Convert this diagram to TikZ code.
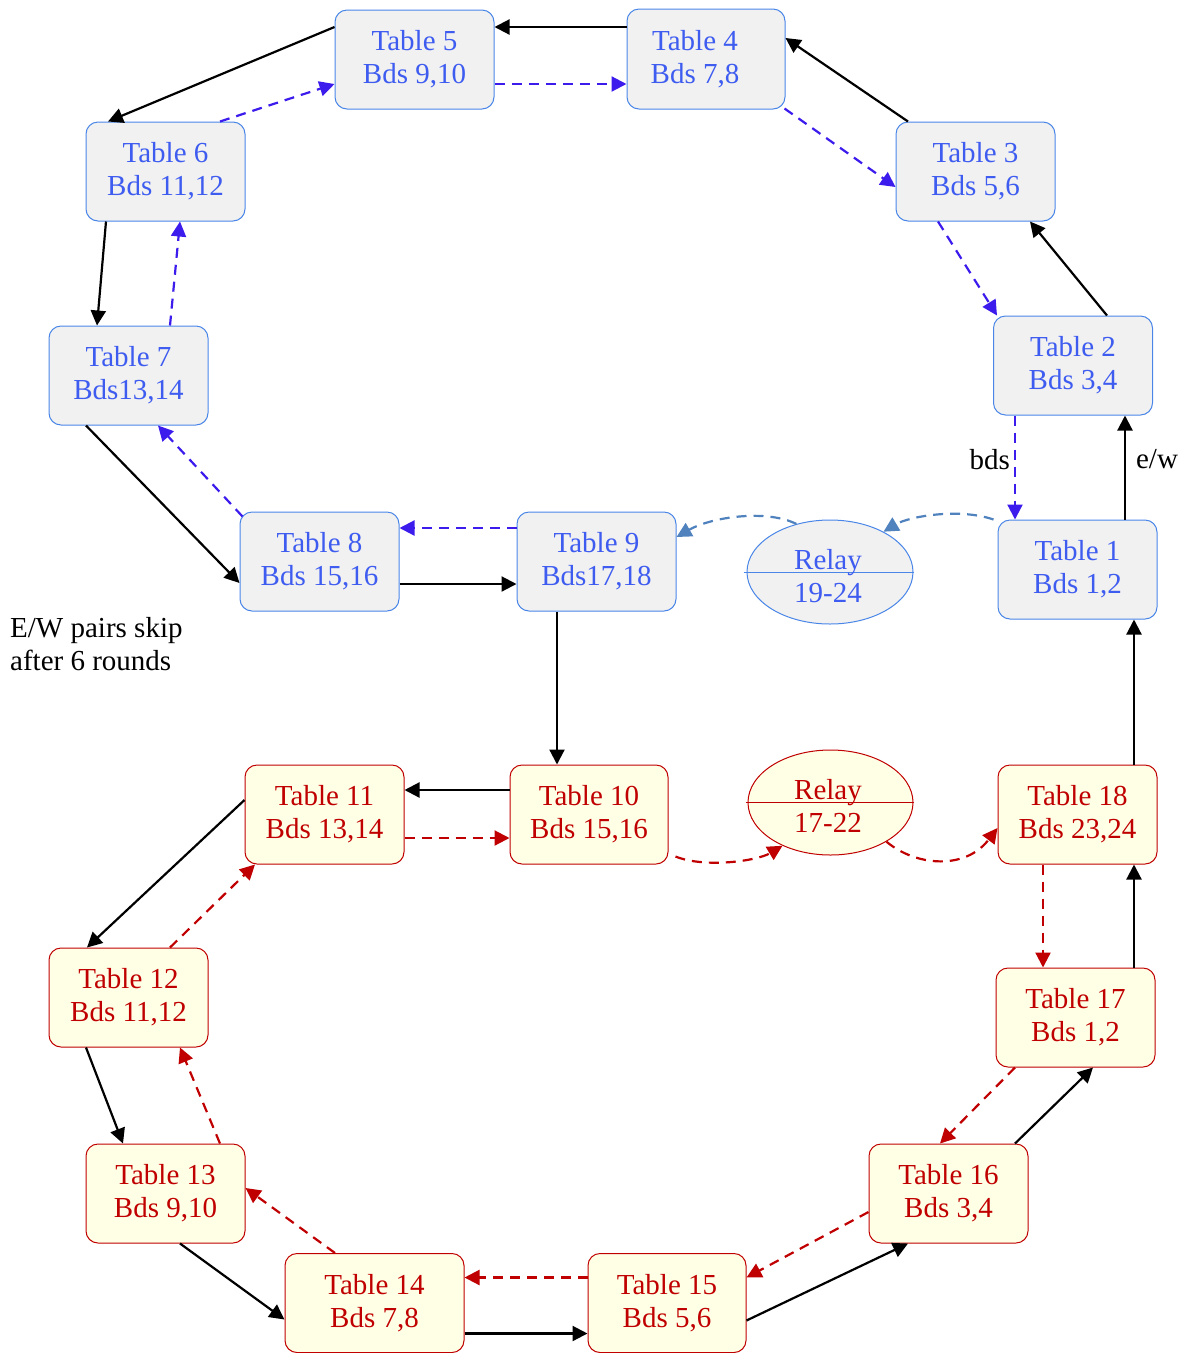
\documentclass[tikz,border=0pt]{standalone}
\usepackage{fontspec}
\setmainfont{Liberation Serif}
\usetikzlibrary{arrows.meta,shapes.geometric}
\definecolor{bluetxt}{RGB}{62,92,240}
\definecolor{blueedge}{RGB}{74,134,232}
\definecolor{bluefill}{RGB}{241,241,241}
\definecolor{bluedash}{RGB}{60,28,236}
\definecolor{steel}{RGB}{80,130,190}
\definecolor{redc}{RGB}{192,0,0}
\definecolor{yfill}{RGB}{255,255,230}
\tikzset{
  bigfont/.style={font=\fontsize{29}{33}\selectfont},
  bluebox/.style={draw=blueedge, fill=bluefill, text=bluetxt, rounded corners=12pt, line width=1pt,
    minimum width=159pt, minimum height=99pt, inner sep=0pt, align=center, bigfont},
  redbox/.style={draw=redc, fill=yfill, text=redc, rounded corners=12pt, line width=1pt,
    minimum width=159pt, minimum height=99pt, inner sep=0pt, align=center, bigfont},
  relayblue/.style={ellipse, draw=blueedge, fill=bluefill, line width=1pt,
    minimum width=166pt, minimum height=104pt, inner sep=0pt},
  relayred/.style={ellipse, draw=redc, fill=yfill, line width=1pt,
    minimum width=165pt, minimum height=105pt, inner sep=0pt},
  relaytxt/.style={align=center, bigfont, inner sep=0pt},
  tip/.style={-{Triangle[length=15pt,width=15pt]}},
  ew/.style={tip, draw=black, line width=2.2pt},
  bdsb/.style={tip, draw=bluedash, line width=2.2pt, dash pattern=on 10pt off 7pt},
  bdsr/.style={tip, draw=redc, line width=2.2pt, dash pattern=on 10pt off 7pt},
  bdss/.style={tip, draw=steel, line width=2.2pt, dash pattern=on 10pt off 7pt},
  lbl/.style={bigfont, text=black, inner sep=0pt},
}
\begin{document}
\begin{tikzpicture}[x=1pt,y=-1pt]
\useasboundingbox (0,0) rectangle (1185,1353);
% blue ring
\node[bluebox] (t1) at (1077.5,569.5) {Table 1\\Bds 1,2};
\node[bluebox] (t2) at (1073,365.5) {Table 2\\Bds 3,4};
\node[bluebox] (t3) at (975.5,171.5) {Table 3\\Bds 5,6};
\node[bluebox, minimum width=158pt, minimum height=100pt] (t4) at (706,59) {Table 4\hspace*{22pt}\\Bds 7,8\hspace*{22pt}};
\node[bluebox] (t5) at (414.5,59.5) {Table 5\\Bds 9,10};
\node[bluebox] (t6) at (165.5,171.5) {Table 6\\Bds 11,12};
\node[bluebox] (t7) at (128.5,375.5) {Table 7\\Bds13,14};
\node[bluebox] (t8) at (319.5,561.5) {Table 8\\Bds 15,16};
\node[bluebox] (t9) at (596.5,561.5) {Table 9\\Bds17,18};
\node[relayblue] (r1) at (830,572) {};
\draw[blueedge, line width=1pt] ([xshift=-3pt]r1.west) -- (r1.east);
\node[relaytxt, text=bluetxt] (r1t) at (828,576) {Relay\\19-24};
% red ring
\node[redbox, minimum width=158pt] (t10) at (589,814.5) {Table 10\\Bds 15,16};
\node[redbox] (t11) at (324.5,814.5) {Table 11\\Bds 13,14};
\node[relayred] (r2) at (830.5,802.5) {};
\draw[redc, line width=1pt] ([xshift=-2pt]r2.west) -- (r2.east);
\node[relaytxt, text=redc] (r2t) at (828,806) {Relay\\17-22};
\node[redbox] (t18) at (1077.5,814.5) {Table 18\\Bds 23,24};
\node[redbox] (t12) at (128.5,997.5) {Table 12\\Bds 11,12};
\node[redbox] (t17) at (1075.5,1017.5) {Table 17\\Bds 1,2};
\node[redbox] (t13) at (165.5,1193.5) {Table 13\\Bds 9,10};
\node[redbox] (t16) at (948.5,1193.5) {Table 16\\Bds 3,4};
\node[redbox, minimum width=179pt] (t14) at (374.5,1303) {Table 14\\Bds 7,8};
\node[redbox, minimum width=158pt] (t15) at (667,1303) {Table 15\\Bds 5,6};
% black e/w arrows
\draw[ew] ([xshift=47.5pt]t1.north) -- node[lbl, right=10pt, pos=0.58] {e/w} ([xshift=52pt]t2.south);
\draw[ew] ([xshift=34pt]t2.north) -- ([xshift=54.5pt]t3.south);
\draw[ew] ([xshift=-67.5pt]t3.north) -- ([yshift=21pt]t4.east);
\draw[ew] ([yshift=32pt]t4.west) -- ([yshift=32.5pt]t5.east);
\draw[ew] ([yshift=32.5pt]t5.west) -- ([xshift=-57.5pt]t6.north);
\draw[ew] ([xshift=-59.5pt]t6.south) -- ([xshift=-31.5pt]t7.north);
\draw[ew] ([xshift=-42.5pt]t7.south) -- ([yshift=-21.5pt]t8.west);
\draw[ew] ([yshift=-22.5pt]t8.east) -- ([yshift=-22.5pt]t9.west);
\draw[ew] ([xshift=-39.5pt]t9.south) -- ([xshift=-32pt]t10.north);
\draw[ew] ([yshift=24.5pt]t10.west) -- ([yshift=24.5pt]t11.east);
\draw[ew] ([yshift=14.5pt]t11.west) -- ([xshift=-41.5pt]t12.north);
\draw[ew] ([xshift=-42.5pt]t12.south) -- ([xshift=-42.5pt]t13.north);
\draw[ew] ([xshift=14.5pt]t13.south) -- ([yshift=-16.5pt]t14.west);
\draw[ew] ([yshift=-30.5pt]t14.east) -- ([yshift=-30.5pt]t15.west);
\draw[ew] ([yshift=-17.5pt]t15.east) -- ([xshift=-40.5pt]t16.south);
\draw[ew] ([xshift=66.5pt]t16.north) -- ([xshift=17.5pt]t17.south);
\draw[ew] ([xshift=58.5pt]t17.north) -- ([xshift=56.5pt]t18.south);
\draw[ew] ([xshift=56.5pt]t18.north) -- ([xshift=56.5pt]t1.south);
% blue dashed bds arrows
\draw[bdsb] ([xshift=-58pt]t2.south) -- node[lbl, left=4pt, pos=0.42] {bds} ([xshift=-62.5pt]t1.north);
\draw[bdsb] ([xshift=-37.5pt]t3.south) -- ([xshift=-76pt]t2.north);
\draw[bdsb] ([xshift=-1pt,yshift=1pt]t4.south east) -- ([yshift=-15.5pt]t3.west);
\draw[bdsb] ([yshift=-24.5pt]t5.east) -- ([yshift=-25pt]t4.west);
\draw[bdsb] ([xshift=54.5pt]t6.north) -- ([yshift=-24.5pt]t5.west);
\draw[bdsb] ([xshift=41.5pt]t7.north) -- ([xshift=14.5pt]t6.south);
\draw[bdsb] ([xshift=3pt,yshift=-5pt]t8.north west) -- ([xshift=29.5pt]t7.south);
\draw[bdsb] ([yshift=33.5pt]t9.west) -- ([yshift=33.5pt]t8.east);
% steel curved
\draw[bdss] ([xshift=-4pt]t1.north west) .. controls +(-35,-12) and +(25,-15) .. (r1.37);
\draw[bdss] (r1.125) .. controls +(-30,-15) and +(35,-20) .. ([yshift=24.5pt]t9.east);
% red dashed
\draw[bdsr] ([yshift=-23.5pt]t11.east) -- ([yshift=-23.5pt]t10.west);
\draw[bdsr] ([xshift=7pt,yshift=8pt]t10.south east) .. controls +(30,12) and +(-25,15) .. (r2.222);
\draw[bdsr] (r2.-35) .. controls +(30,25) and +(-32,42) .. ([yshift=-13.5pt]t18.west);
\draw[bdsr] ([xshift=-34.5pt]t18.south) -- ([xshift=-32.5pt]t17.north);
\draw[bdsr] ([xshift=-60.5pt]t17.south) -- ([xshift=-8.5pt]t16.north);
\draw[bdsr] ([yshift=-18.5pt]t16.west) -- ([yshift=25.5pt]t15.east);
\draw[bdsr] ([yshift=25.5pt]t15.west) -- ([yshift=25.5pt]t14.east);
\draw[bdsr] ([xshift=-39.5pt]t14.north) -- ([yshift=5.5pt]t13.east);
\draw[bdsr] ([xshift=54.5pt]t13.north) -- ([xshift=51.5pt]t12.south);
\draw[bdsr] ([xshift=41.5pt]t12.north) -- ([xshift=-69.5pt]t11.south);
% note
\node[lbl, anchor=west, align=left] (note) at (10,644.5) {E/W pairs skip\\after 6 rounds};
\end{tikzpicture}
\end{document}
